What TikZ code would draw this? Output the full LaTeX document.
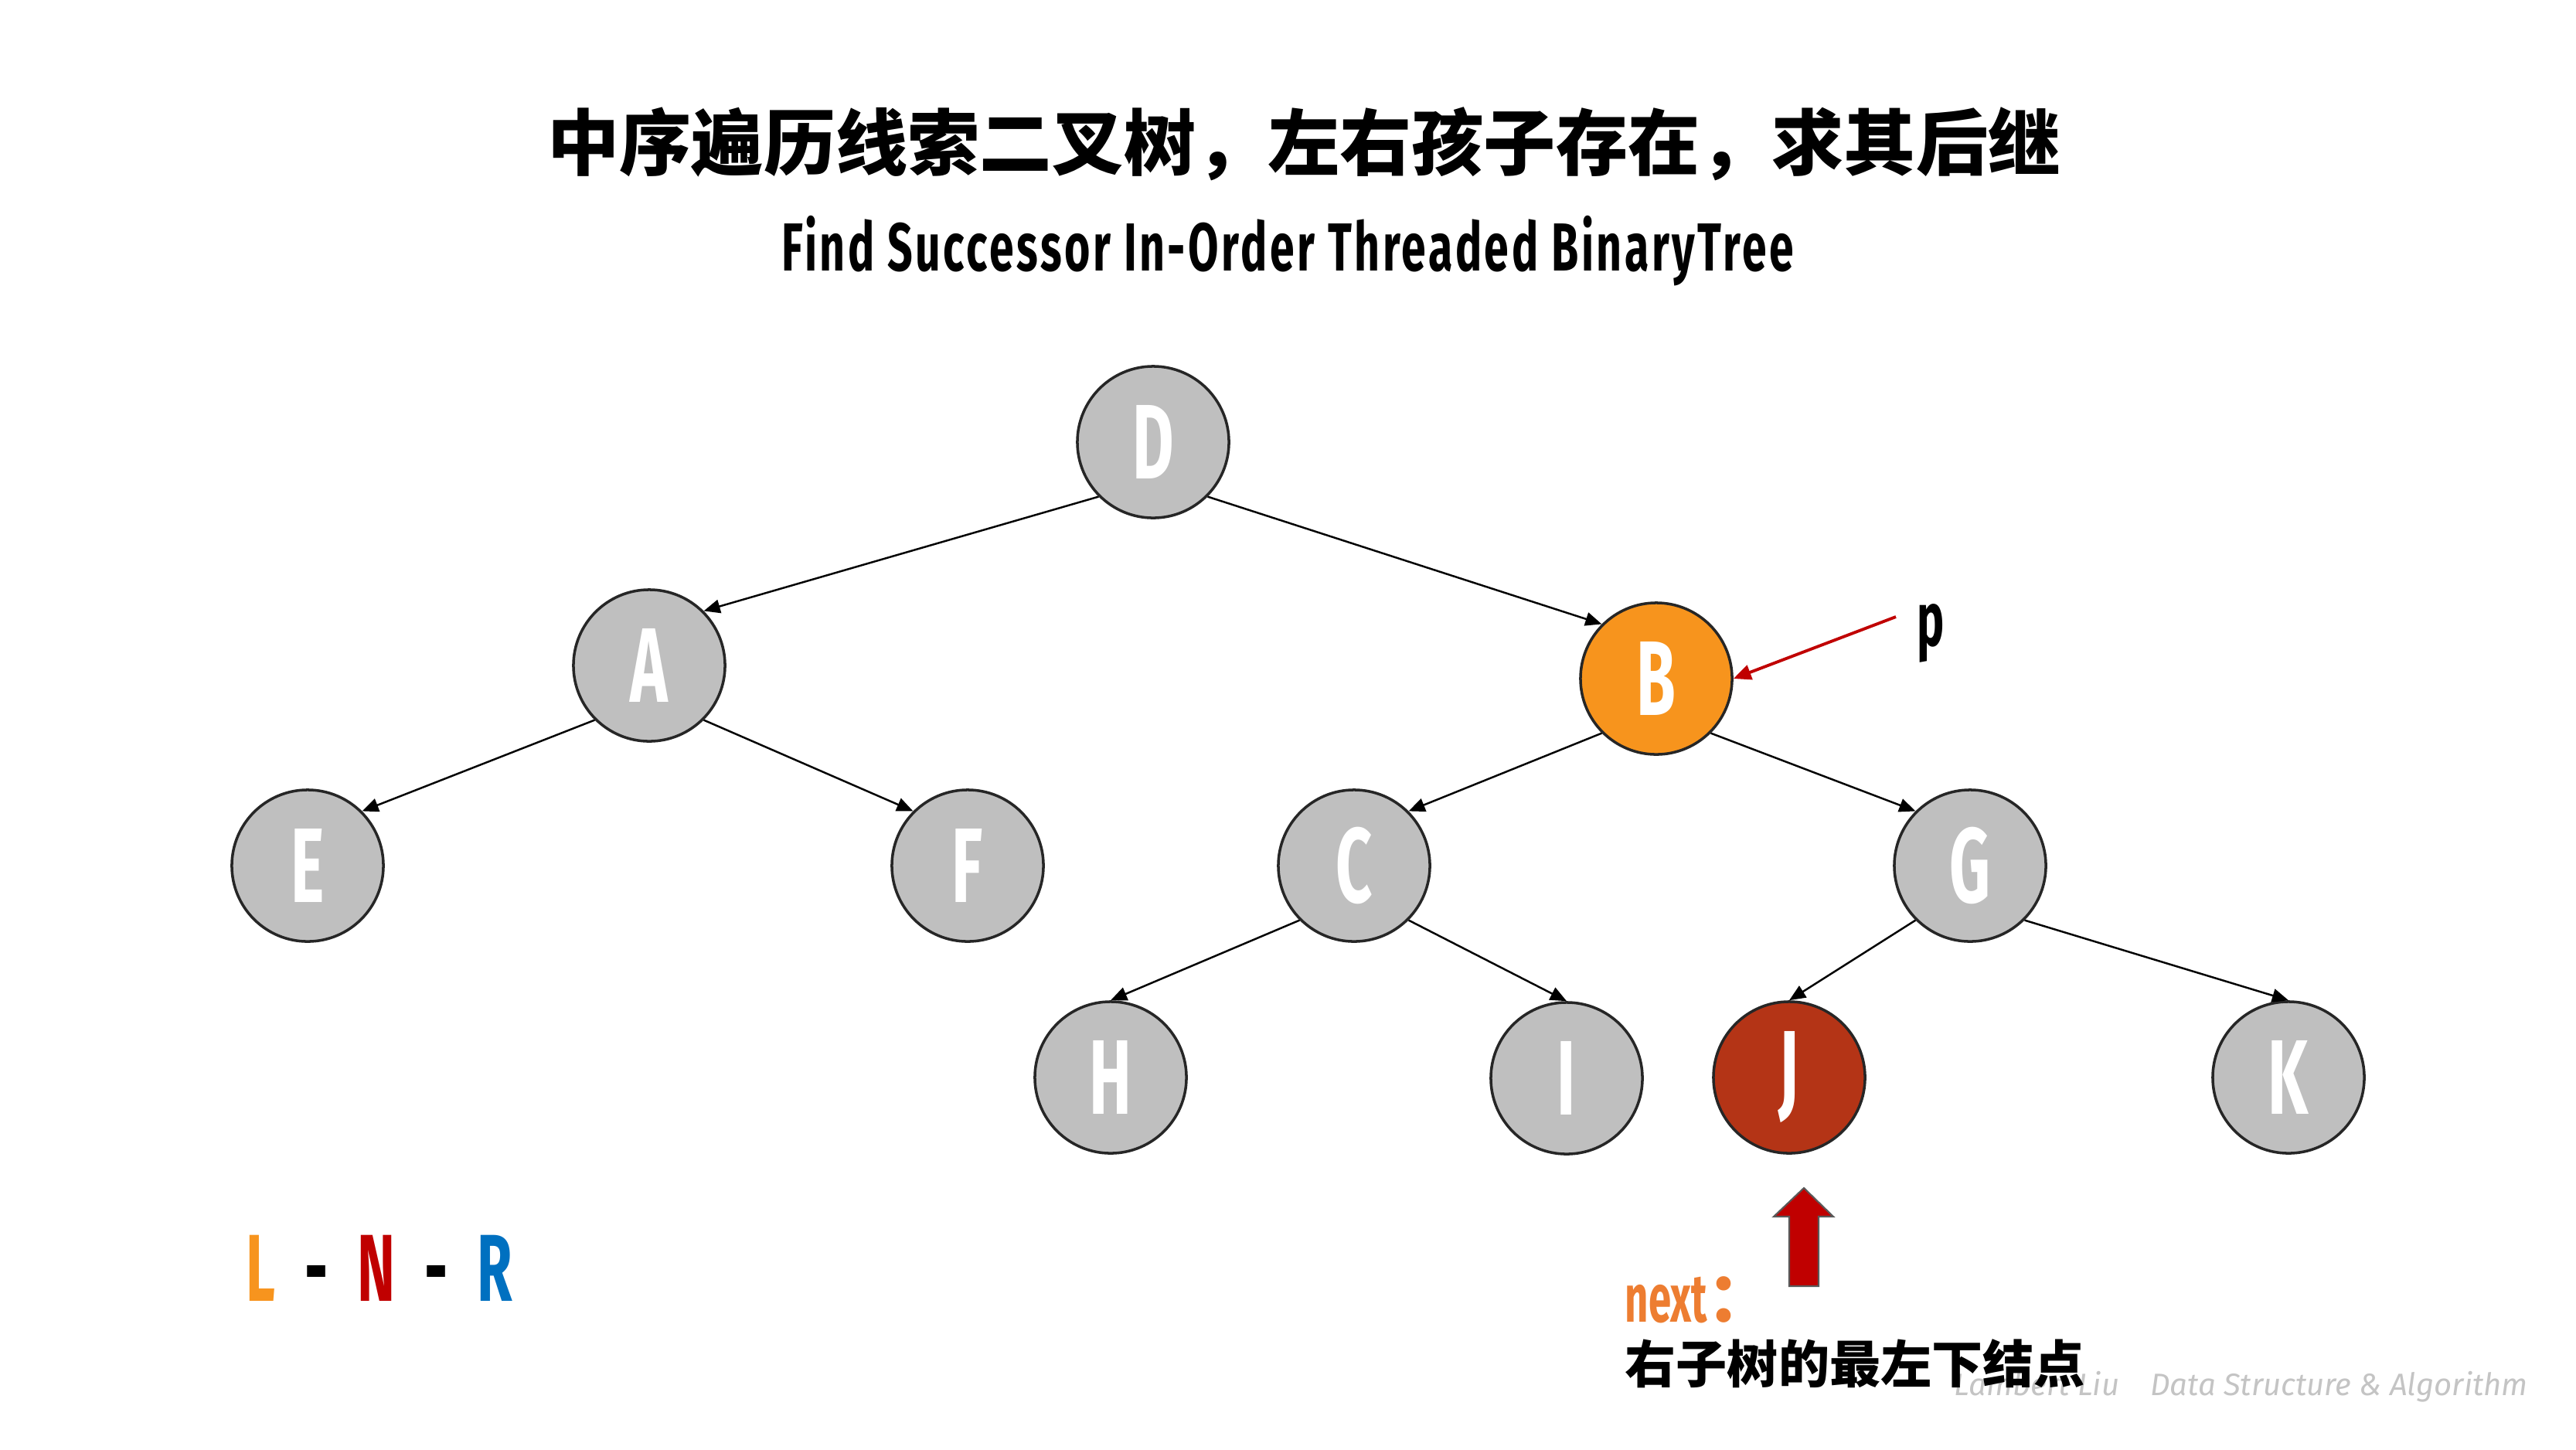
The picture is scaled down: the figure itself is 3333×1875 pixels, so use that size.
\documentclass[tikz,border=0pt]{standalone}
\usepackage{fontspec}
\usepackage{tikz}
\usetikzlibrary{
    arrows.meta,
    backgrounds
}
\newfontfamily\condfont[FakeStretch=0.6]{Fira Sans}
\newfontfamily\subfont[FakeStretch=0.65, LetterSpace=4]{Fira Sans}
\newfontfamily\markfont{Fira Sans}
\newfontfamily\cjk{Noto Sans CJK SC}
\definecolor{ink}{RGB}{38,38,38}
\definecolor{nodegray}{RGB}{191,191,191}
\definecolor{curfill}{RGB}{247,148,29}
\definecolor{succfill}{RGB}{180,52,22}
\definecolor{ptrred}{RGB}{192,0,0}
\definecolor{nextorange}{RGB}{237,125,49}
\definecolor{lnrorange}{RGB}{247,148,30}
\definecolor{lnrblue}{RGB}{0,112,192}
\definecolor{markgray}{RGB}{196,196,196}
\definecolor{arrowrim}{RGB}{89,89,89}
\tikzset{
    treenode/.style={
        circle,
        draw=ink,
        line width=1pt,
        fill=nodegray,
        minimum size=1.96cm,
        inner sep=0pt,
        text=white,
        font=\condfont\bfseries\fontsize{39pt}{39pt}\selectfont
    },
    cur node/.style={treenode, fill=curfill},
    succ node/.style={treenode, fill=succfill},
    tree edge/.style={
        -{Triangle[length=6pt,width=5pt]},
        draw=black,
        line width=0.7pt
    },
    ptr arrow/.style={
        -{Triangle[length=6.5pt,width=5.5pt]},
        draw=ptrred,
        line width=1.1pt
    },
    blockarrow/.style={
        fill=ptrred,
        draw=arrowrim,
        line width=0.6pt,
        line join=miter
    },
    headline/.style={
        font=\cjk\bfseries\fontsize{26.5pt}{26.5pt}\selectfont,
        text=black,
        inner sep=0pt
    },
    subline/.style={
        font=\subfont\bfseries\fontsize{25pt}{25pt}\selectfont,
        text=black,
        inner sep=0pt
    },
    ptrlabel/.style={
        font=\condfont\bfseries\fontsize{28pt}{28pt}\selectfont,
        text=black,
        inner sep=0pt
    },
    orderlabel/.style={
        font=\condfont\bfseries\fontsize{35pt}{35pt}\selectfont,
        text=black,
        inner sep=0pt
    },
    nextlabel/.style={
        font=\condfont\bfseries\fontsize{25pt}{25pt}\selectfont,
        text=nextorange,
        inner sep=0pt
    },
    notelabel/.style={
        font=\cjk\bfseries\fontsize{18.8pt}{18.8pt}\selectfont,
        text=black,
        inner sep=0pt
    },
    watermark/.style={
        font=\markfont\itshape\fontsize{11.4pt}{11.4pt}\selectfont,
        text=markgray,
        inner sep=0pt
    }
}

\begin{document}
\begin{tikzpicture}[
    x=0.01cm, y=-0.01cm,
    show background rectangle,
    inner frame sep=0pt,
    background rectangle/.style={fill=white}
]
\useasboundingbox (0,0) rectangle (3333,1875);

% Titles
\node[headline] (title) at (1687,186) {中序遍历线索二叉树，左右孩子存在，求其后继};
\node[subline, anchor=base] (subtitle) at (1666,350) {Find Successor In-Order Threaded BinaryTree};

% Tree nodes
\foreach \n/\x/\y in {D/1492/572, A/840/861, E/398/1120, F/1252/1120,
                      C/1752/1120, G/2549/1120, H/1437/1394, I/2027/1395, K/2961/1394} {
    \node[treenode] (\n) at (\x,\y) {\n};
}
\node[cur node] (B) at (2143,878) {B};
\node[succ node] (J) at (2315,1394) {J};

% Child links
\foreach \a/\b in {D.225/A.45, D.315/B.135, A.225/E.45, A.315/F.135,
                   B.225/C.45, B.315/G.135, C.225/H.north, C.315/I.north,
                   G.225/J.north, G.315/K.north} {
    \draw[tree edge] (\a) -- (\b);
}

% Pointer p
\node[ptrlabel, anchor=base west] (plabel) at (2480,835) {p};
\coordinate (ptail) at (2453,798);
\draw[ptr arrow] (ptail) -- (B.east);

% Successor hint
\draw[blockarrow] (2315,1664) -- (2315,1574) -- (2295,1574) -- (2334,1537)
    -- (2372,1574) -- (2353,1574) -- (2353,1664) -- cycle;
\node[nextlabel, anchor=base west] (nextlbl) at (2102,1710) {next{\cjk ：}};
\node[watermark, anchor=base west] (credit) at (2528,1805) {Lambert Liu\quad Data Structure \& Algorithm};
\node[notelabel, anchor=west] (note) at (2102,1764) {右子树的最左下结点};

% Traversal order
\node[orderlabel, anchor=base west] (order) at (318,1683)
    {{\color{lnrorange}L} \,-\, {\color{ptrred}N} \,-\, {\color{lnrblue}R}};
\end{tikzpicture}
\end{document}
